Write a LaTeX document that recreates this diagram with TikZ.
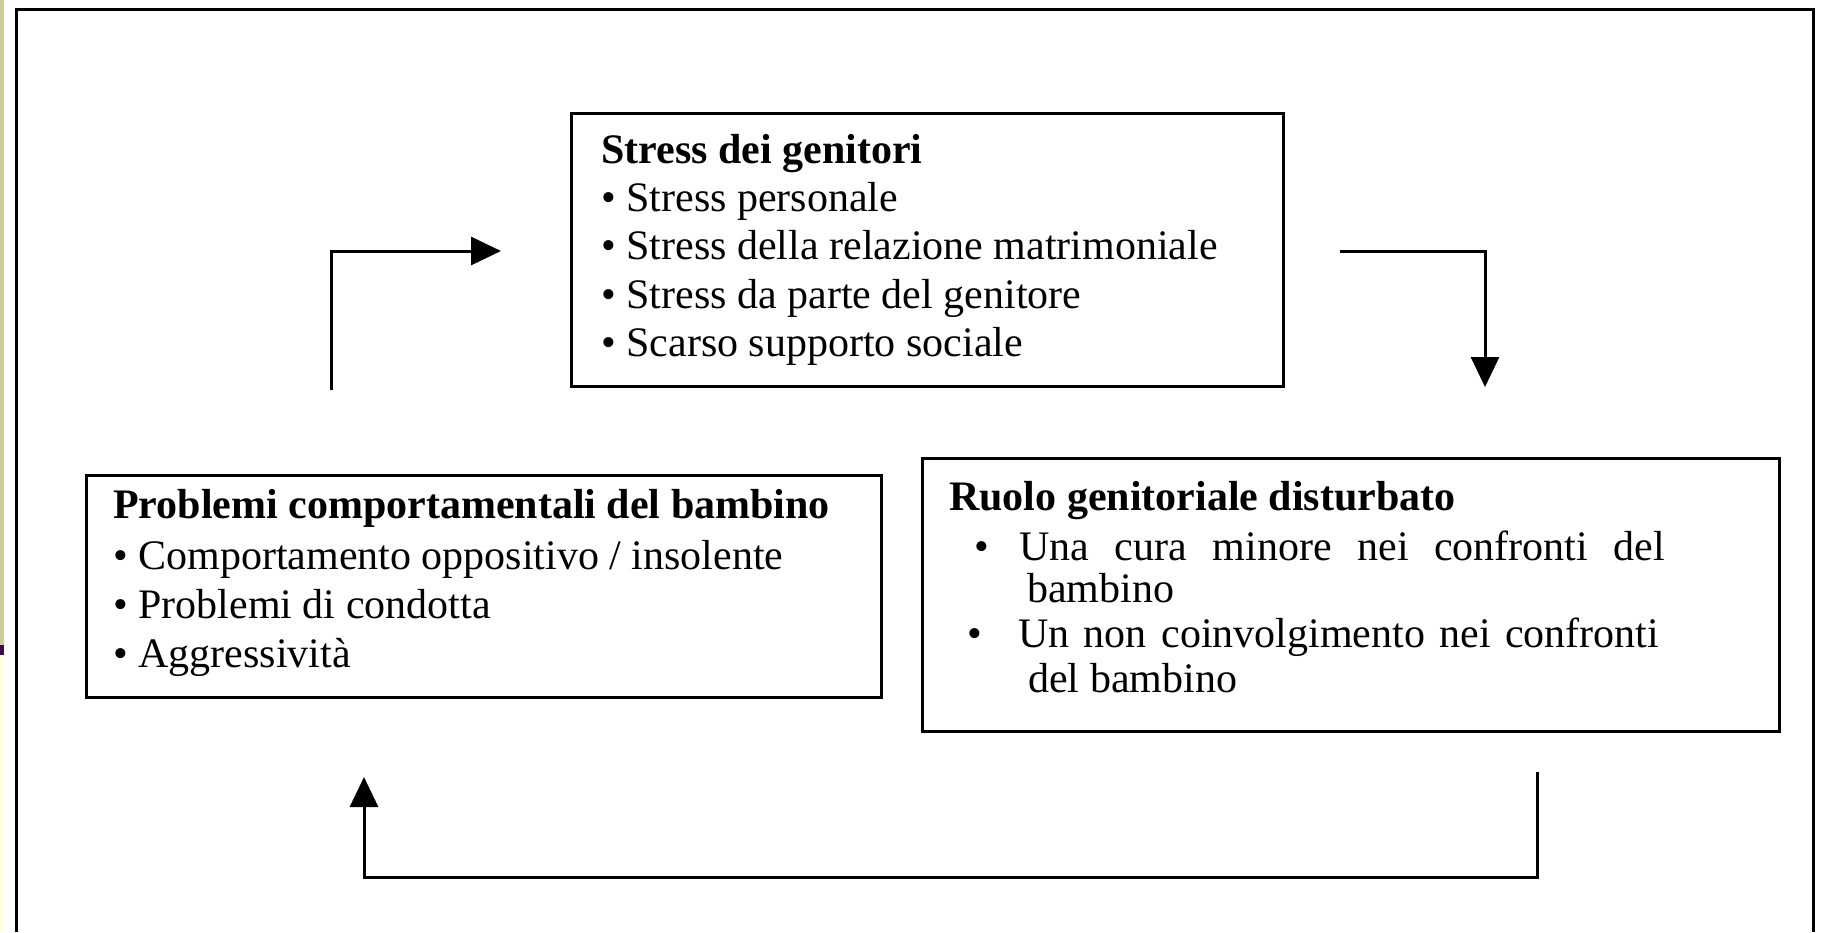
\documentclass[tikz,border=0pt]{standalone}
\usepackage{fontspec}
\setmainfont{Liberation Serif}
\usetikzlibrary{arrows.meta}
\definecolor{stripkhaki}{HTML}{CDCC9A}
\definecolor{stripdark}{HTML}{3A0B45}
\definecolor{strippale}{HTML}{FFFFE2}
\begin{document}
\begin{tikzpicture}[x=1pt,y=-1pt,
  box/.style={draw, line width=2.5pt, rectangle, inner sep=0pt, anchor=north west},
  txt/.style={anchor=base west, inner sep=0pt, font=\fontsize{42}{48}\selectfont},
  ttl/.style={anchor=base west, inner sep=0pt, font=\fontsize{42}{48}\selectfont\bfseries},
  conn/.style={line width=3pt, -{Triangle[length=30pt,width=28pt]}}]
\useasboundingbox[fill=white] (0,0) rectangle (1822,932);
% left strip
\fill[stripkhaki] (0,0) rectangle (4,645);
\fill[stripdark] (0,645) rectangle (4,655);
\fill[strippale] (0,655) rectangle (4,932);
% frame
\draw[line width=3pt] (16.5,932) -- (16.5,9.5) -- (1813.5,9.5) -- (1813.5,932);
% boxes
\node[box, minimum width=712pt, minimum height=273pt] (stress) at (570,112) {};
\node[box, minimum width=795pt, minimum height=222pt] (child) at (85,474) {};
\node[box, minimum width=857pt, minimum height=273pt] (role) at (921,457) {};
% top box text
\node[ttl] (t0) at (601,163) {Stress dei genitori};
\node[txt] (t1) at (601,211) {\textbullet\ Stress personale};
\node[txt] (t2) at (601,259.5) {\textbullet\ Stress della relazione matrimoniale};
\node[txt] (t3) at (601,308) {\textbullet\ Stress da parte del genitore};
\node[txt] (t4) at (601,356.5) {\textbullet\ Scarso supporto sociale};
% left box text
\node[ttl] (l0) at (113,518) {Problemi comportamentali del bambino};
\node[txt] (l1) at (113,569) {\textbullet\ Comportamento oppositivo / insolente};
\node[txt] (l2) at (113,618) {\textbullet\ Problemi di condotta};
\node[txt] (l3) at (113,667) {\textbullet\ Aggressività};
% right box text
\node[ttl] (r0) at (949,510) {Ruolo genitoriale disturbato};
\node[txt] (r1b) at (974,560) {\textbullet};
\node[txt] (r1) at (1019,560) {\makebox[646pt][s]{Una cura minore nei confronti del}};
\node[txt] (r2) at (1027,602) {bambino};
\node[txt] (r3b) at (967,647) {\textbullet};
\node[txt] (r3) at (1018,647) {\makebox[641pt][s]{Un non coinvolgimento nei confronti}};
\node[txt] (r4) at (1028,692) {del bambino};
% connectors
\coordinate (a1s) at (331,390);
\coordinate (a1e) at (501,251);
\draw[conn] (a1s) |- (a1e);
\coordinate (a2s) at (1340,251);
\coordinate (a2e) at (1485,387);
\draw[conn] (a2s) -| (a2e);
\coordinate (a3s) at (1537,772);
\coordinate (a3c) at (1537,877);
\coordinate (a3e) at (364,777);
\draw[conn] (a3s) -- (a3c) -| (a3e);
\end{tikzpicture}
\end{document}
